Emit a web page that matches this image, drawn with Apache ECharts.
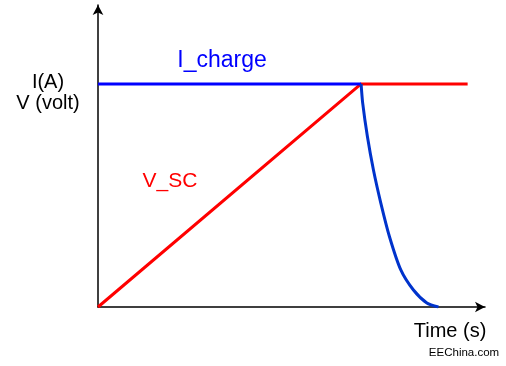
<!DOCTYPE html>
<html><head><meta charset="utf-8">
<script src="https://cdn.jsdelivr.net/npm/echarts@6/dist/echarts.min.js"></script>
<style>html,body{margin:0;padding:0;background:#fff}#c{width:506px;height:366px}</style>
</head><body><div id="c"></div>
<script>
const chargeFlat = [[0, 10], [10, 10]];
const chargeDecay = [[10, 10], [10.06, 9.15], [10.24, 7.64], [10.47, 6.14], [10.75, 4.66], [11.08, 3.15], [11.51, 1.66], [11.99, 0.76], [12.5, 0.18], [12.94, 0]];
const vsc = [[0, 0], [10, 10], [14.05, 10]];
const labels = { yAxis: ['I(A)', 'V (volt)'], charge: 'I_charge', vsc: 'V_SC', xAxis: 'Time (s)', source: 'EEChina.com' };

const chart = echarts.init(document.getElementById('c'));
const font = '"Liberation Sans", Arial, sans-serif';
chart.setOption({
  animation: false,
  backgroundColor: '#fff',
  grid: { left: 98, right: 21, top: 5, bottom: 59 },
  xAxis: { type: 'value', min: 0, max: 14.71, splitLine: { show: false }, axisTick: { show: false }, axisLabel: { show: false },
    axisLine: { show: true, onZero: false, symbol: ['none', 'arrow'], symbolSize: [8, 10], lineStyle: { color: '#000', width: 1.5 } } },
  yAxis: { type: 'value', min: 0, max: 13.54, splitLine: { show: false }, axisTick: { show: false }, axisLabel: { show: false },
    axisLine: { show: true, onZero: false, symbol: ['none', 'arrow'], symbolSize: [8, 10], lineStyle: { color: '#000', width: 1.5 } } },
  series: [
    { type: 'line', data: vsc, showSymbol: false, lineStyle: { color: '#ff0000', width: 3 }, z: 2 },
    { type: 'line', data: chargeFlat, showSymbol: false, lineStyle: { color: '#0000ff', width: 3 }, z: 3 },
    { type: 'line', data: chargeDecay, showSymbol: false, smooth: 0.25, lineStyle: { color: '#0033cc', width: 3 }, z: 3 }
  ],
  graphic: [
    { type: 'text', style: { x: 48, y: 82, text: labels.yAxis[0], font: '20px ' + font, fill: '#000', align: 'center', verticalAlign: 'middle' } },
    { type: 'text', style: { x: 48, y: 103, text: labels.yAxis[1], font: '20px ' + font, fill: '#000', align: 'center', verticalAlign: 'middle' } },
    { type: 'text', style: { x: 222, y: 61, text: labels.charge, font: '23px ' + font, fill: '#0000ff', align: 'center', verticalAlign: 'middle' } },
    { type: 'text', style: { x: 170, y: 181, text: labels.vsc, font: '21px ' + font, fill: '#ff0000', align: 'center', verticalAlign: 'middle' } },
    { type: 'text', style: { x: 450, y: 331, text: labels.xAxis, font: '20px ' + font, fill: '#000', align: 'center', verticalAlign: 'middle' } },
    { type: 'text', style: { x: 464, y: 353, text: labels.source, font: '11.5px ' + font, fill: '#000', align: 'center', verticalAlign: 'middle' } }
  ]
});
</script></body></html>
